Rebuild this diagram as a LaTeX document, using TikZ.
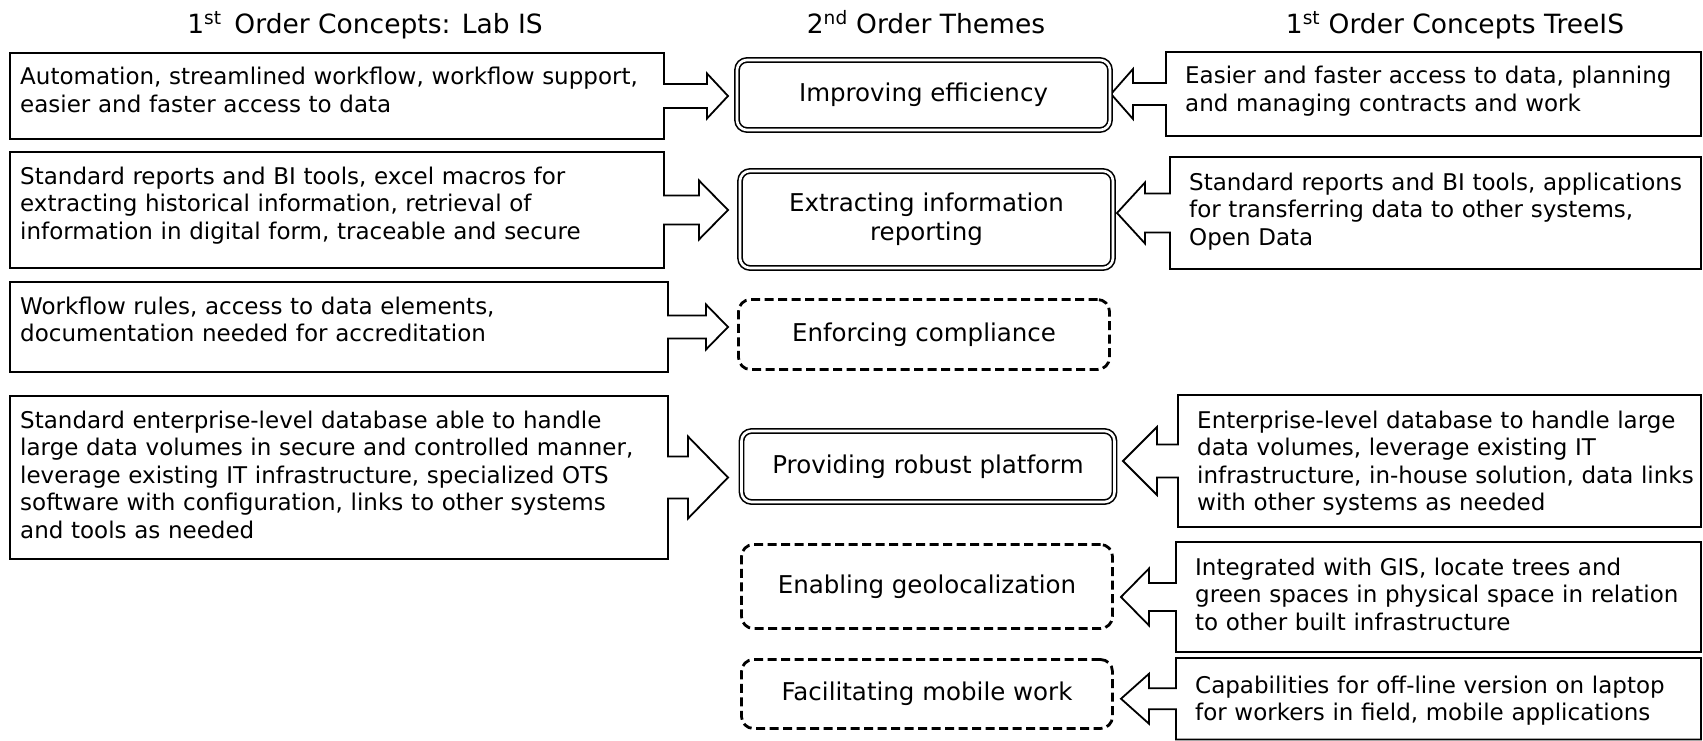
\documentclass[tikz,border=0pt]{standalone}
\usepackage{fontspec}
\setmainfont{DejaVu Sans}
\newcommand\callout[8]{% far-x, top, near-x, bottom, stem half, head half, head base x, tip x
  \pgfmathsetmacro\cy{(#2+#4)/2}%
  \draw[calloutline] (#1,#2) -- (#3,#2) -- (#3,\cy-#5) -- (#7,\cy-#5) -- (#7,\cy-#6)
    -- (#8,\cy) -- (#7,\cy+#6) -- (#7,\cy+#5) -- (#3,\cy+#5) -- (#3,#4) -- (#1,#4) -- cycle;}
\tikzset{
  calloutline/.style={draw=black, line width=1.8pt, line join=miter},
  bodytext/.style={anchor=base west, align=left, inner sep=0pt, text width=#1,
    font=\fontsize{23}{27.5}\selectfont},
  themebase/.style={minimum width=#1, align=center, inner sep=0pt,
    font=\fontsize{24.5}{29}\selectfont},
  dbl/.style={themebase=373pt, draw, double, double distance=2.6pt, line width=1.6pt,
    rounded corners=10pt},
  dsh/.style={themebase=371pt, draw, line width=2.8pt, dash pattern=on 9pt off 4.5pt,
    rounded corners=12pt},
  hdr/.style={anchor=base, inner sep=0pt, font=\fontsize{26.5}{31}\selectfont}
}
\begin{document}
\begin{tikzpicture}[x=1pt,y=-1pt]
\useasboundingbox (0,0) rectangle (1703,741);
% headers
\node[hdr] (H1) at (365,34) {1\textsuperscript{st}\, Order Concepts: Lab IS};
\node[hdr] (H2) at (926,34) {2\textsuperscript{nd} Order Themes};
\node[hdr] (H3) at (1455,34) {1\textsuperscript{st} Order Concepts TreeIS};
% left callouts
\callout{10}{53}{664}{139}{12}{22.5}{707}{728}
\callout{10}{152}{664}{268}{14.5}{29.5}{699}{728}
\callout{10}{282}{668}{372}{11.5}{22.5}{706}{728}
\callout{10}{396}{668}{559}{21}{41}{688}{728}
% right callouts
\callout{1701}{52}{1166}{136}{11}{25}{1133}{1111}
\callout{1701}{157}{1170}{269}{19.5}{30.5}{1145}{1117}
\callout{1701}{395}{1178}{527}{16.5}{34}{1157}{1123}
\callout{1701}{542}{1176}{652}{14}{28.5}{1149}{1121}
\callout{1701}{658}{1176}{739.5}{10.5}{25}{1149}{1121}
% left texts
\node[bodytext=640pt] (L1) at (20,85) {Automation, streamlined workflow, workflow support,\\easier and faster access to data};
\node[bodytext=640pt] (L2) at (20,184) {Standard reports and BI tools, excel macros for\\extracting historical information, retrieval of\\information in digital form, traceable and secure};
\node[bodytext=640pt] (L3) at (20,314) {Workflow rules, access to data elements,\\documentation needed for accreditation};
\node[bodytext=640pt] (L4) at (20,428) {Standard enterprise-level database able to handle\\large data volumes in secure and controlled manner,\\leverage existing IT infrastructure, specialized OTS\\software with configuration, links to other systems\\and tools as needed};
% right texts
\node[bodytext=510pt] (R1) at (1185,84) {Easier and faster access to data, planning\\and managing contracts and work};
\node[bodytext=510pt] (R2) at (1189,190) {Standard reports and BI tools, applications\\for transferring data to other systems,\\Open Data};
\node[bodytext=510pt] (R4) at (1197,428) {Enterprise-level database to handle large\\data volumes, leverage existing IT\\infrastructure, in-house solution, data links\\with other systems as needed};
\node[bodytext=510pt] (R5) at (1195,575) {Integrated with GIS, locate trees and\\green spaces in physical space in relation\\to other built infrastructure};
\node[bodytext=510pt] (R6) at (1195,693) {Capabilities for off-line version on laptop\\for workers in field, mobile applications};
% themes
\node[dbl, minimum height=70pt] (T1) at (923.5,95) {Improving efficiency};
\node[dbl, minimum height=97pt] (T2) at (926.5,219.5) {Extracting information\\reporting};
\node[dsh, minimum height=70pt] (T3) at (924,334.5) {Enforcing compliance};
\node[dbl, minimum height=71pt] (T4) at (928,466.5) {Providing robust platform};
\node[dsh, minimum height=84pt] (T5) at (927,586.5) {Enabling geolocalization};
\node[dsh, minimum height=69pt] (T6) at (927,694) {Facilitating mobile work};
\end{tikzpicture}
\end{document}
